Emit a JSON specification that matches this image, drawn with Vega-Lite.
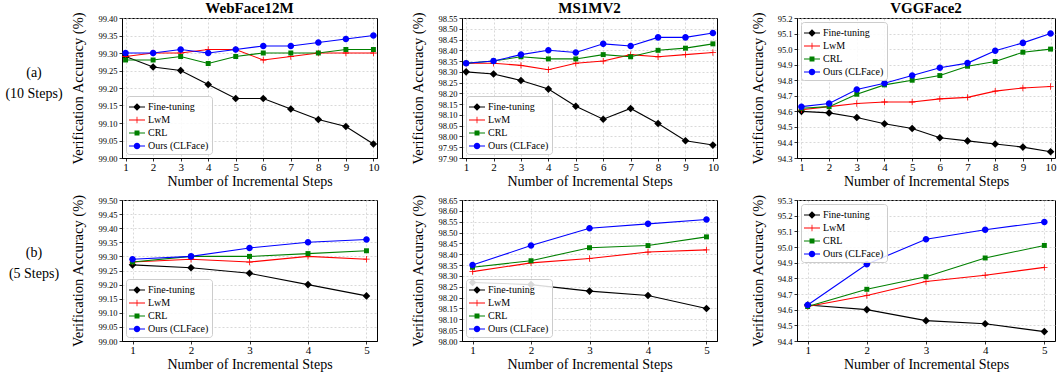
{
 "$schema": "https://vega.github.io/schema/vega-lite/v6.json",
 "padding": {"left": 0, "top": 0, "right": 0, "bottom": 0},
 "datasets": {
  "w10": [
   {"m":"Fine-tuning","x":1,"y":99.29},{"m":"Fine-tuning","x":2,"y":99.26},{"m":"Fine-tuning","x":3,"y":99.25},{"m":"Fine-tuning","x":4,"y":99.21},{"m":"Fine-tuning","x":5,"y":99.17},{"m":"Fine-tuning","x":6,"y":99.17},{"m":"Fine-tuning","x":7,"y":99.14},{"m":"Fine-tuning","x":8,"y":99.11},{"m":"Fine-tuning","x":9,"y":99.09},{"m":"Fine-tuning","x":10,"y":99.04},
   {"m":"LwM","x":1,"y":99.29},{"m":"LwM","x":2,"y":99.30},{"m":"LwM","x":3,"y":99.30},{"m":"LwM","x":4,"y":99.31},{"m":"LwM","x":5,"y":99.31},{"m":"LwM","x":6,"y":99.28},{"m":"LwM","x":7,"y":99.29},{"m":"LwM","x":8,"y":99.30},{"m":"LwM","x":9,"y":99.30},{"m":"LwM","x":10,"y":99.30},
   {"m":"CRL","x":1,"y":99.28},{"m":"CRL","x":2,"y":99.28},{"m":"CRL","x":3,"y":99.29},{"m":"CRL","x":4,"y":99.27},{"m":"CRL","x":5,"y":99.29},{"m":"CRL","x":6,"y":99.30},{"m":"CRL","x":7,"y":99.30},{"m":"CRL","x":8,"y":99.30},{"m":"CRL","x":9,"y":99.31},{"m":"CRL","x":10,"y":99.31},
   {"m":"Ours (CLFace)","x":1,"y":99.30},{"m":"Ours (CLFace)","x":2,"y":99.30},{"m":"Ours (CLFace)","x":3,"y":99.31},{"m":"Ours (CLFace)","x":4,"y":99.30},{"m":"Ours (CLFace)","x":5,"y":99.31},{"m":"Ours (CLFace)","x":6,"y":99.32},{"m":"Ours (CLFace)","x":7,"y":99.32},{"m":"Ours (CLFace)","x":8,"y":99.33},{"m":"Ours (CLFace)","x":9,"y":99.34},{"m":"Ours (CLFace)","x":10,"y":99.35}
  ],
  "m10": [
   {"m":"Fine-tuning","x":1,"y":98.30},{"m":"Fine-tuning","x":2,"y":98.29},{"m":"Fine-tuning","x":3,"y":98.26},{"m":"Fine-tuning","x":4,"y":98.22},{"m":"Fine-tuning","x":5,"y":98.14},{"m":"Fine-tuning","x":6,"y":98.08},{"m":"Fine-tuning","x":7,"y":98.13},{"m":"Fine-tuning","x":8,"y":98.06},{"m":"Fine-tuning","x":9,"y":97.98},{"m":"Fine-tuning","x":10,"y":97.96},
   {"m":"LwM","x":1,"y":98.34},{"m":"LwM","x":2,"y":98.34},{"m":"LwM","x":3,"y":98.33},{"m":"LwM","x":4,"y":98.31},{"m":"LwM","x":5,"y":98.34},{"m":"LwM","x":6,"y":98.35},{"m":"LwM","x":7,"y":98.38},{"m":"LwM","x":8,"y":98.37},{"m":"LwM","x":9,"y":98.38},{"m":"LwM","x":10,"y":98.39},
   {"m":"CRL","x":1,"y":98.34},{"m":"CRL","x":2,"y":98.35},{"m":"CRL","x":3,"y":98.37},{"m":"CRL","x":4,"y":98.36},{"m":"CRL","x":5,"y":98.36},{"m":"CRL","x":6,"y":98.38},{"m":"CRL","x":7,"y":98.37},{"m":"CRL","x":8,"y":98.40},{"m":"CRL","x":9,"y":98.41},{"m":"CRL","x":10,"y":98.43},
   {"m":"Ours (CLFace)","x":1,"y":98.34},{"m":"Ours (CLFace)","x":2,"y":98.35},{"m":"Ours (CLFace)","x":3,"y":98.38},{"m":"Ours (CLFace)","x":4,"y":98.40},{"m":"Ours (CLFace)","x":5,"y":98.39},{"m":"Ours (CLFace)","x":6,"y":98.43},{"m":"Ours (CLFace)","x":7,"y":98.42},{"m":"Ours (CLFace)","x":8,"y":98.46},{"m":"Ours (CLFace)","x":9,"y":98.46},{"m":"Ours (CLFace)","x":10,"y":98.48}
  ],
  "v10": [
   {"m":"Fine-tuning","x":1,"y":94.60},{"m":"Fine-tuning","x":2,"y":94.59},{"m":"Fine-tuning","x":3,"y":94.56},{"m":"Fine-tuning","x":4,"y":94.52},{"m":"Fine-tuning","x":5,"y":94.49},{"m":"Fine-tuning","x":6,"y":94.43},{"m":"Fine-tuning","x":7,"y":94.41},{"m":"Fine-tuning","x":8,"y":94.39},{"m":"Fine-tuning","x":9,"y":94.37},{"m":"Fine-tuning","x":10,"y":94.34},
   {"m":"LwM","x":1,"y":94.61},{"m":"LwM","x":2,"y":94.63},{"m":"LwM","x":3,"y":94.65},{"m":"LwM","x":4,"y":94.66},{"m":"LwM","x":5,"y":94.66},{"m":"LwM","x":6,"y":94.68},{"m":"LwM","x":7,"y":94.69},{"m":"LwM","x":8,"y":94.73},{"m":"LwM","x":9,"y":94.75},{"m":"LwM","x":10,"y":94.76},
   {"m":"CRL","x":1,"y":94.62},{"m":"CRL","x":2,"y":94.63},{"m":"CRL","x":3,"y":94.71},{"m":"CRL","x":4,"y":94.77},{"m":"CRL","x":5,"y":94.80},{"m":"CRL","x":6,"y":94.83},{"m":"CRL","x":7,"y":94.89},{"m":"CRL","x":8,"y":94.92},{"m":"CRL","x":9,"y":94.98},{"m":"CRL","x":10,"y":95.00},
   {"m":"Ours (CLFace)","x":1,"y":94.63},{"m":"Ours (CLFace)","x":2,"y":94.65},{"m":"Ours (CLFace)","x":3,"y":94.74},{"m":"Ours (CLFace)","x":4,"y":94.78},{"m":"Ours (CLFace)","x":5,"y":94.83},{"m":"Ours (CLFace)","x":6,"y":94.88},{"m":"Ours (CLFace)","x":7,"y":94.91},{"m":"Ours (CLFace)","x":8,"y":94.99},{"m":"Ours (CLFace)","x":9,"y":95.04},{"m":"Ours (CLFace)","x":10,"y":95.10}
  ],
  "w5": [
   {"m":"Fine-tuning","x":1,"y":99.27},{"m":"Fine-tuning","x":2,"y":99.26},{"m":"Fine-tuning","x":3,"y":99.24},{"m":"Fine-tuning","x":4,"y":99.20},{"m":"Fine-tuning","x":5,"y":99.16},
   {"m":"LwM","x":1,"y":99.28},{"m":"LwM","x":2,"y":99.29},{"m":"LwM","x":3,"y":99.28},{"m":"LwM","x":4,"y":99.30},{"m":"LwM","x":5,"y":99.29},
   {"m":"CRL","x":1,"y":99.28},{"m":"CRL","x":2,"y":99.30},{"m":"CRL","x":3,"y":99.30},{"m":"CRL","x":4,"y":99.31},{"m":"CRL","x":5,"y":99.32},
   {"m":"Ours (CLFace)","x":1,"y":99.29},{"m":"Ours (CLFace)","x":2,"y":99.30},{"m":"Ours (CLFace)","x":3,"y":99.33},{"m":"Ours (CLFace)","x":4,"y":99.35},{"m":"Ours (CLFace)","x":5,"y":99.36}
  ],
  "m5": [
   {"m":"Fine-tuning","x":1,"y":98.27},{"m":"Fine-tuning","x":2,"y":98.26},{"m":"Fine-tuning","x":3,"y":98.23},{"m":"Fine-tuning","x":4,"y":98.21},{"m":"Fine-tuning","x":5,"y":98.15},
   {"m":"LwM","x":1,"y":98.32},{"m":"LwM","x":2,"y":98.36},{"m":"LwM","x":3,"y":98.38},{"m":"LwM","x":4,"y":98.41},{"m":"LwM","x":5,"y":98.42},
   {"m":"CRL","x":1,"y":98.34},{"m":"CRL","x":2,"y":98.37},{"m":"CRL","x":3,"y":98.43},{"m":"CRL","x":4,"y":98.44},{"m":"CRL","x":5,"y":98.48},
   {"m":"Ours (CLFace)","x":1,"y":98.35},{"m":"Ours (CLFace)","x":2,"y":98.44},{"m":"Ours (CLFace)","x":3,"y":98.52},{"m":"Ours (CLFace)","x":4,"y":98.54},{"m":"Ours (CLFace)","x":5,"y":98.56}
  ],
  "v5": [
   {"m":"Fine-tuning","x":1,"y":94.63},{"m":"Fine-tuning","x":2,"y":94.60},{"m":"Fine-tuning","x":3,"y":94.53},{"m":"Fine-tuning","x":4,"y":94.51},{"m":"Fine-tuning","x":5,"y":94.46},
   {"m":"LwM","x":1,"y":94.62},{"m":"LwM","x":2,"y":94.69},{"m":"LwM","x":3,"y":94.78},{"m":"LwM","x":4,"y":94.82},{"m":"LwM","x":5,"y":94.87},
   {"m":"CRL","x":1,"y":94.62},{"m":"CRL","x":2,"y":94.73},{"m":"CRL","x":3,"y":94.81},{"m":"CRL","x":4,"y":94.93},{"m":"CRL","x":5,"y":95.01},
   {"m":"Ours (CLFace)","x":1,"y":94.63},{"m":"Ours (CLFace)","x":2,"y":94.89},{"m":"Ours (CLFace)","x":3,"y":95.05},{"m":"Ours (CLFace)","x":4,"y":95.11},{"m":"Ours (CLFace)","x":5,"y":95.16}
  ]
 },
 "vconcat": [
  {
   "bounds": "flush",
   "spacing": 54,
   "hconcat": [
    {"width": 68, "height": 140, "view": {"stroke": null}, "data": {"values": [{"t": "(a)\n(10 Steps)"}]}, "mark": {"type": "text", "lineBreak": "\n", "fontSize": 14, "font": "Liberation Serif", "dy": -15, "lineHeight": 21, "color": "black"}, "encoding": {"text": {"field": "t", "type": "nominal"}}},
    {
     "bounds": "flush",
     "spacing": 85,
     "hconcat": [
      {
       "width": 255, "height": 140, "title": "WebFace12M", "data": {"name": "w10"},
       "encoding": {
        "x": {"field": "x", "type": "quantitative", "scale": {"domain": [0.87, 10.13], "nice": false, "zero": false}, "axis": {"values": [1,2,3,4,5,6,7,8,9,10], "format": "d", "title": "Number of Incremental Steps"}},
        "y": {"field": "y", "type": "quantitative", "scale": {"domain": [99.0, 99.4], "nice": false, "zero": false}, "axis": {"values": [99.0,99.05,99.1,99.15,99.2,99.25,99.3,99.35,99.4], "format": ".2f", "title": "Verification Accuracy (%)"}}
       },
       "layer": [
        {"mark": {"type": "line", "strokeWidth": 1.1}, "encoding": {"color": {"field": "m", "type": "nominal", "scale": {"domain": ["Fine-tuning","LwM","CRL","Ours (CLFace)"], "range": ["#000000","#ff0000","#008000","#0000ff"]}, "legend": null}}},
        {"mark": {"type": "point", "filled": true, "opacity": 1, "size": 64, "strokeWidth": 0}, "encoding": {"color": {"field": "m", "type": "nominal", "scale": {"domain": ["Fine-tuning","LwM","CRL","Ours (CLFace)"], "range": ["#000000","#ff0000","#008000","#0000ff"]}, "legend": null}, "shape": {"field": "m", "type": "nominal", "scale": {"domain": ["Fine-tuning","LwM","CRL","Ours (CLFace)"], "range": ["M0,-0.95L0.95,0L0,0.95L-0.95,0Z","M-0.8,-0.1H0.8V0.1H-0.8Z M-0.1,-0.8H0.1V0.8H-0.1Z","M-0.62,-0.62H0.62V0.62H-0.62Z","M-0.82,0A0.82,0.82 0 1,1 0.82,0A0.82,0.82 0 1,1 -0.82,0Z"]}, "legend": null}}},
        {"transform": [{"filter": "false"}], "mark": {"type": "point", "filled": true, "opacity": 1, "strokeWidth": 0}, "encoding": {"color": {"field": "m", "type": "nominal", "scale": {"domain": ["Fine-tuning","LwM","CRL","Ours (CLFace)"], "range": ["#000000","#ff0000","#008000","#0000ff"]}, "legend": {"orient": "bottom-left", "title": null}}, "shape": {"field": "m", "type": "nominal", "scale": {"domain": ["Fine-tuning","LwM","CRL","Ours (CLFace)"], "range": ["M-1,-0.075H1V0.075H-1Z M0,-0.475L0.475,0L0,0.475L-0.475,0Z","M-1,-0.075H1V0.075H-1Z M-0.05,-0.4H0.05V0.4H-0.05Z","M-1,-0.075H1V0.075H-1Z M-0.31,-0.31H0.31V0.31H-0.31Z","M-1,-0.075H1V0.075H-1Z M-0.41,0A0.41,0.41 0 1,1 0.41,0A0.41,0.41 0 1,1 -0.41,0Z"]}, "legend": {"orient": "bottom-left", "title": null}}}}
       ],
       "resolve": {"scale": {"color": "independent", "shape": "independent"}}
      },
      {
       "bounds": "flush",
       "spacing": 80,
       "hconcat": [
        {
         "width": 255, "height": 140, "title": "MS1MV2", "data": {"name": "m10"},
         "encoding": {
          "x": {"field": "x", "type": "quantitative", "scale": {"domain": [0.85, 10.15], "nice": false, "zero": false}, "axis": {"values": [1,2,3,4,5,6,7,8,9,10], "format": "d", "title": "Number of Incremental Steps"}},
          "y": {"field": "y", "type": "quantitative", "scale": {"domain": [97.9, 98.55], "nice": false, "zero": false}, "axis": {"values": [97.9,97.95,98.0,98.05,98.1,98.15,98.2,98.25,98.3,98.35,98.4,98.45,98.5,98.55], "format": ".2f", "title": "Verification Accuracy (%)"}}
         },
         "layer": [
          {"mark": {"type": "line", "strokeWidth": 1.1}, "encoding": {"color": {"field": "m", "type": "nominal", "scale": {"domain": ["Fine-tuning","LwM","CRL","Ours (CLFace)"], "range": ["#000000","#ff0000","#008000","#0000ff"]}, "legend": null}}},
          {"mark": {"type": "point", "filled": true, "opacity": 1, "size": 64, "strokeWidth": 0}, "encoding": {"color": {"field": "m", "type": "nominal", "scale": {"domain": ["Fine-tuning","LwM","CRL","Ours (CLFace)"], "range": ["#000000","#ff0000","#008000","#0000ff"]}, "legend": null}, "shape": {"field": "m", "type": "nominal", "scale": {"domain": ["Fine-tuning","LwM","CRL","Ours (CLFace)"], "range": ["M0,-0.95L0.95,0L0,0.95L-0.95,0Z","M-0.8,-0.1H0.8V0.1H-0.8Z M-0.1,-0.8H0.1V0.8H-0.1Z","M-0.62,-0.62H0.62V0.62H-0.62Z","M-0.82,0A0.82,0.82 0 1,1 0.82,0A0.82,0.82 0 1,1 -0.82,0Z"]}, "legend": null}}},
          {"transform": [{"filter": "false"}], "mark": {"type": "point", "filled": true, "opacity": 1, "strokeWidth": 0}, "encoding": {"color": {"field": "m", "type": "nominal", "scale": {"domain": ["Fine-tuning","LwM","CRL","Ours (CLFace)"], "range": ["#000000","#ff0000","#008000","#0000ff"]}, "legend": {"orient": "bottom-left", "title": null}}, "shape": {"field": "m", "type": "nominal", "scale": {"domain": ["Fine-tuning","LwM","CRL","Ours (CLFace)"], "range": ["M-1,-0.075H1V0.075H-1Z M0,-0.475L0.475,0L0,0.475L-0.475,0Z","M-1,-0.075H1V0.075H-1Z M-0.05,-0.4H0.05V0.4H-0.05Z","M-1,-0.075H1V0.075H-1Z M-0.31,-0.31H0.31V0.31H-0.31Z","M-1,-0.075H1V0.075H-1Z M-0.41,0A0.41,0.41 0 1,1 0.41,0A0.41,0.41 0 1,1 -0.41,0Z"]}, "legend": {"orient": "bottom-left", "title": null}}}}
         ],
         "resolve": {"scale": {"color": "independent", "shape": "independent"}}
        },
        {
         "width": 258, "height": 140, "title": "VGGFace2", "data": {"name": "v10"},
         "encoding": {
          "x": {"field": "x", "type": "quantitative", "scale": {"domain": [0.84, 10.16], "nice": false, "zero": false}, "axis": {"values": [1,2,3,4,5,6,7,8,9,10], "format": "d", "title": "Number of Incremental Steps"}},
          "y": {"field": "y", "type": "quantitative", "scale": {"domain": [94.3, 95.2], "nice": false, "zero": false}, "axis": {"values": [94.3,94.4,94.5,94.6,94.7,94.8,94.9,95.0,95.1,95.2], "format": ".1f", "title": "Verification Accuracy (%)"}}
         },
         "layer": [
          {"mark": {"type": "line", "strokeWidth": 1.1}, "encoding": {"color": {"field": "m", "type": "nominal", "scale": {"domain": ["Fine-tuning","LwM","CRL","Ours (CLFace)"], "range": ["#000000","#ff0000","#008000","#0000ff"]}, "legend": null}}},
          {"mark": {"type": "point", "filled": true, "opacity": 1, "size": 64, "strokeWidth": 0}, "encoding": {"color": {"field": "m", "type": "nominal", "scale": {"domain": ["Fine-tuning","LwM","CRL","Ours (CLFace)"], "range": ["#000000","#ff0000","#008000","#0000ff"]}, "legend": null}, "shape": {"field": "m", "type": "nominal", "scale": {"domain": ["Fine-tuning","LwM","CRL","Ours (CLFace)"], "range": ["M0,-0.95L0.95,0L0,0.95L-0.95,0Z","M-0.8,-0.1H0.8V0.1H-0.8Z M-0.1,-0.8H0.1V0.8H-0.1Z","M-0.62,-0.62H0.62V0.62H-0.62Z","M-0.82,0A0.82,0.82 0 1,1 0.82,0A0.82,0.82 0 1,1 -0.82,0Z"]}, "legend": null}}},
          {"transform": [{"filter": "false"}], "mark": {"type": "point", "filled": true, "opacity": 1, "strokeWidth": 0}, "encoding": {"color": {"field": "m", "type": "nominal", "scale": {"domain": ["Fine-tuning","LwM","CRL","Ours (CLFace)"], "range": ["#000000","#ff0000","#008000","#0000ff"]}, "legend": {"orient": "top-left", "title": null}}, "shape": {"field": "m", "type": "nominal", "scale": {"domain": ["Fine-tuning","LwM","CRL","Ours (CLFace)"], "range": ["M-1,-0.075H1V0.075H-1Z M0,-0.475L0.475,0L0,0.475L-0.475,0Z","M-1,-0.075H1V0.075H-1Z M-0.05,-0.4H0.05V0.4H-0.05Z","M-1,-0.075H1V0.075H-1Z M-0.31,-0.31H0.31V0.31H-0.31Z","M-1,-0.075H1V0.075H-1Z M-0.41,0A0.41,0.41 0 1,1 0.41,0A0.41,0.41 0 1,1 -0.41,0Z"]}, "legend": {"orient": "top-left", "title": null}}}}
         ],
         "resolve": {"scale": {"color": "independent", "shape": "independent"}}
        }
       ]
      }
     ]
    }
   ]
  },
  {
   "bounds": "flush",
   "spacing": 54,
   "hconcat": [
    {"width": 68, "height": 141, "view": {"stroke": null}, "data": {"values": [{"t": "(b)\n(5 Steps)"}]}, "mark": {"type": "text", "lineBreak": "\n", "fontSize": 14, "font": "Liberation Serif", "dy": -18, "lineHeight": 21, "color": "black"}, "encoding": {"text": {"field": "t", "type": "nominal"}}},
    {
     "bounds": "flush",
     "spacing": 85,
     "hconcat": [
      {
       "width": 255, "height": 141, "data": {"name": "w5"},
       "encoding": {
        "x": {"field": "x", "type": "quantitative", "scale": {"domain": [0.82, 5.18], "nice": false, "zero": false}, "axis": {"values": [1,2,3,4,5], "format": "d", "title": "Number of Incremental Steps"}},
        "y": {"field": "y", "type": "quantitative", "scale": {"domain": [99.0, 99.5], "nice": false, "zero": false}, "axis": {"values": [99.0,99.05,99.1,99.15,99.2,99.25,99.3,99.35,99.4,99.45,99.5], "format": ".2f", "title": "Verification Accuracy (%)"}}
       },
       "layer": [
        {"mark": {"type": "line", "strokeWidth": 1.1}, "encoding": {"color": {"field": "m", "type": "nominal", "scale": {"domain": ["Fine-tuning","LwM","CRL","Ours (CLFace)"], "range": ["#000000","#ff0000","#008000","#0000ff"]}, "legend": null}}},
        {"mark": {"type": "point", "filled": true, "opacity": 1, "size": 64, "strokeWidth": 0}, "encoding": {"color": {"field": "m", "type": "nominal", "scale": {"domain": ["Fine-tuning","LwM","CRL","Ours (CLFace)"], "range": ["#000000","#ff0000","#008000","#0000ff"]}, "legend": null}, "shape": {"field": "m", "type": "nominal", "scale": {"domain": ["Fine-tuning","LwM","CRL","Ours (CLFace)"], "range": ["M0,-0.95L0.95,0L0,0.95L-0.95,0Z","M-0.8,-0.1H0.8V0.1H-0.8Z M-0.1,-0.8H0.1V0.8H-0.1Z","M-0.62,-0.62H0.62V0.62H-0.62Z","M-0.82,0A0.82,0.82 0 1,1 0.82,0A0.82,0.82 0 1,1 -0.82,0Z"]}, "legend": null}}},
        {"transform": [{"filter": "false"}], "mark": {"type": "point", "filled": true, "opacity": 1, "strokeWidth": 0}, "encoding": {"color": {"field": "m", "type": "nominal", "scale": {"domain": ["Fine-tuning","LwM","CRL","Ours (CLFace)"], "range": ["#000000","#ff0000","#008000","#0000ff"]}, "legend": {"orient": "bottom-left", "title": null}}, "shape": {"field": "m", "type": "nominal", "scale": {"domain": ["Fine-tuning","LwM","CRL","Ours (CLFace)"], "range": ["M-1,-0.075H1V0.075H-1Z M0,-0.475L0.475,0L0,0.475L-0.475,0Z","M-1,-0.075H1V0.075H-1Z M-0.05,-0.4H0.05V0.4H-0.05Z","M-1,-0.075H1V0.075H-1Z M-0.31,-0.31H0.31V0.31H-0.31Z","M-1,-0.075H1V0.075H-1Z M-0.41,0A0.41,0.41 0 1,1 0.41,0A0.41,0.41 0 1,1 -0.41,0Z"]}, "legend": {"orient": "bottom-left", "title": null}}}}
       ],
       "resolve": {"scale": {"color": "independent", "shape": "independent"}}
      },
      {
       "bounds": "flush",
       "spacing": 80,
       "hconcat": [
        {
         "width": 255, "height": 141, "data": {"name": "m5"},
         "encoding": {
          "x": {"field": "x", "type": "quantitative", "scale": {"domain": [0.82, 5.18], "nice": false, "zero": false}, "axis": {"values": [1,2,3,4,5], "format": "d", "title": "Number of Incremental Steps"}},
          "y": {"field": "y", "type": "quantitative", "scale": {"domain": [98.0, 98.65], "nice": false, "zero": false}, "axis": {"values": [98.0,98.05,98.1,98.15,98.2,98.25,98.3,98.35,98.4,98.45,98.5,98.55,98.6,98.65], "format": ".2f", "title": "Verification Accuracy (%)"}}
         },
         "layer": [
          {"mark": {"type": "line", "strokeWidth": 1.1}, "encoding": {"color": {"field": "m", "type": "nominal", "scale": {"domain": ["Fine-tuning","LwM","CRL","Ours (CLFace)"], "range": ["#000000","#ff0000","#008000","#0000ff"]}, "legend": null}}},
          {"mark": {"type": "point", "filled": true, "opacity": 1, "size": 64, "strokeWidth": 0}, "encoding": {"color": {"field": "m", "type": "nominal", "scale": {"domain": ["Fine-tuning","LwM","CRL","Ours (CLFace)"], "range": ["#000000","#ff0000","#008000","#0000ff"]}, "legend": null}, "shape": {"field": "m", "type": "nominal", "scale": {"domain": ["Fine-tuning","LwM","CRL","Ours (CLFace)"], "range": ["M0,-0.95L0.95,0L0,0.95L-0.95,0Z","M-0.8,-0.1H0.8V0.1H-0.8Z M-0.1,-0.8H0.1V0.8H-0.1Z","M-0.62,-0.62H0.62V0.62H-0.62Z","M-0.82,0A0.82,0.82 0 1,1 0.82,0A0.82,0.82 0 1,1 -0.82,0Z"]}, "legend": null}}},
          {"transform": [{"filter": "false"}], "mark": {"type": "point", "filled": true, "opacity": 1, "strokeWidth": 0}, "encoding": {"color": {"field": "m", "type": "nominal", "scale": {"domain": ["Fine-tuning","LwM","CRL","Ours (CLFace)"], "range": ["#000000","#ff0000","#008000","#0000ff"]}, "legend": {"orient": "bottom-left", "title": null}}, "shape": {"field": "m", "type": "nominal", "scale": {"domain": ["Fine-tuning","LwM","CRL","Ours (CLFace)"], "range": ["M-1,-0.075H1V0.075H-1Z M0,-0.475L0.475,0L0,0.475L-0.475,0Z","M-1,-0.075H1V0.075H-1Z M-0.05,-0.4H0.05V0.4H-0.05Z","M-1,-0.075H1V0.075H-1Z M-0.31,-0.31H0.31V0.31H-0.31Z","M-1,-0.075H1V0.075H-1Z M-0.41,0A0.41,0.41 0 1,1 0.41,0A0.41,0.41 0 1,1 -0.41,0Z"]}, "legend": {"orient": "bottom-left", "title": null}}}}
         ],
         "resolve": {"scale": {"color": "independent", "shape": "independent"}}
        },
        {
         "width": 258, "height": 141, "data": {"name": "v5"},
         "encoding": {
          "x": {"field": "x", "type": "quantitative", "scale": {"domain": [0.82, 5.18], "nice": false, "zero": false}, "axis": {"values": [1,2,3,4,5], "format": "d", "title": "Number of Incremental Steps"}},
          "y": {"field": "y", "type": "quantitative", "scale": {"domain": [94.4, 95.3], "nice": false, "zero": false}, "axis": {"values": [94.4,94.5,94.6,94.7,94.8,94.9,95.0,95.1,95.2,95.3], "format": ".1f", "title": "Verification Accuracy (%)"}}
         },
         "layer": [
          {"mark": {"type": "line", "strokeWidth": 1.1}, "encoding": {"color": {"field": "m", "type": "nominal", "scale": {"domain": ["Fine-tuning","LwM","CRL","Ours (CLFace)"], "range": ["#000000","#ff0000","#008000","#0000ff"]}, "legend": null}}},
          {"mark": {"type": "point", "filled": true, "opacity": 1, "size": 64, "strokeWidth": 0}, "encoding": {"color": {"field": "m", "type": "nominal", "scale": {"domain": ["Fine-tuning","LwM","CRL","Ours (CLFace)"], "range": ["#000000","#ff0000","#008000","#0000ff"]}, "legend": null}, "shape": {"field": "m", "type": "nominal", "scale": {"domain": ["Fine-tuning","LwM","CRL","Ours (CLFace)"], "range": ["M0,-0.95L0.95,0L0,0.95L-0.95,0Z","M-0.8,-0.1H0.8V0.1H-0.8Z M-0.1,-0.8H0.1V0.8H-0.1Z","M-0.62,-0.62H0.62V0.62H-0.62Z","M-0.82,0A0.82,0.82 0 1,1 0.82,0A0.82,0.82 0 1,1 -0.82,0Z"]}, "legend": null}}},
          {"transform": [{"filter": "false"}], "mark": {"type": "point", "filled": true, "opacity": 1, "strokeWidth": 0}, "encoding": {"color": {"field": "m", "type": "nominal", "scale": {"domain": ["Fine-tuning","LwM","CRL","Ours (CLFace)"], "range": ["#000000","#ff0000","#008000","#0000ff"]}, "legend": {"orient": "top-left", "title": null}}, "shape": {"field": "m", "type": "nominal", "scale": {"domain": ["Fine-tuning","LwM","CRL","Ours (CLFace)"], "range": ["M-1,-0.075H1V0.075H-1Z M0,-0.475L0.475,0L0,0.475L-0.475,0Z","M-1,-0.075H1V0.075H-1Z M-0.05,-0.4H0.05V0.4H-0.05Z","M-1,-0.075H1V0.075H-1Z M-0.31,-0.31H0.31V0.31H-0.31Z","M-1,-0.075H1V0.075H-1Z M-0.41,0A0.41,0.41 0 1,1 0.41,0A0.41,0.41 0 1,1 -0.41,0Z"]}, "legend": {"orient": "top-left", "title": null}}}}
         ],
         "resolve": {"scale": {"color": "independent", "shape": "independent"}}
        }
       ]
      }
     ]
    }
   ]
  }
 ],
 "bounds": "full",
 "spacing": 4,
 "config": {
  "view": {"stroke": "black", "strokeWidth": 1},
  "font": "Liberation Serif",
  "axis": {"labelFont": "Liberation Serif", "titleFont": "Liberation Serif", "labelColor": "black", "titleColor": "black", "domainColor": "black", "domainWidth": 1, "tickColor": "black", "tickSize": 3, "tickWidth": 0.8, "gridColor": "#c8c8c8", "gridDash": [2, 2], "gridWidth": 0.7, "titleFontWeight": "normal", "labelPadding": 2, "labelOverlap": false, "labelFlush": false},
  "axisX": {"labelFontSize": 11, "titleFontSize": 14, "titlePadding": 2, "labelPadding": 0},
  "axisY": {"labelFontSize": 8.5, "titleFontSize": 14.5, "titlePadding": 12},
  "legend": {"labelFont": "Liberation Serif", "labelFontSize": 10, "labelColor": "black", "symbolSize": 256, "symbolStrokeWidth": 0, "fillColor": "rgba(255,255,255,0.85)", "strokeColor": "#cccccc", "cornerRadius": 3, "padding": 3, "offset": 4, "rowPadding": -2, "labelOffset": 3},
  "title": {"font": "Liberation Serif", "fontSize": 15, "fontWeight": "bold", "color": "black", "offset": -4}
 }
}
